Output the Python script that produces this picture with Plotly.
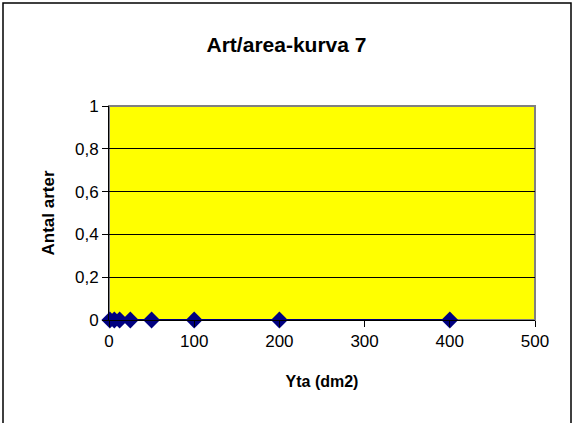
import plotly.graph_objects as go

area = [1, 6.25, 12.5, 25, 50, 100, 200, 400]
species = [0, 0, 0, 0, 0, 0, 0, 0]
x_ticks = [0, 100, 200, 300, 400, 500]
y_ticks = [0, 0.2, 0.4, 0.6, 0.8, 1]

W, H = 573, 423
L, R, T, B = 109, 38, 106, 103
pw, ph = W - L - R, H - T - B

def px(x):
    return (x - L) / pw

def py(y):
    return (H - B - y) / ph

font = "Liberation Sans, Arial, sans-serif"

fig = go.Figure()
fig.add_trace(go.Scatter(
    x=area, y=species, mode="lines+markers",
    line=dict(color="#000080", width=2),
    marker=dict(symbol="diamond", size=13, color="#000080"),
    cliponaxis=False, showlegend=False,
))

fig.update_layout(
    width=W, height=H,
    margin=dict(l=L, r=R, t=T, b=B, pad=0),
    paper_bgcolor="white",
    plot_bgcolor="#FFFF00",
    separators=", ",
    font=dict(family=font, color="black", size=17),
    title=dict(text="<b>Art/area-kurva 7</b>", x=0.5, xanchor="center",
               y=1 - 45 / H, yanchor="middle", font=dict(size=21)),
    xaxis=dict(range=[0, 500], tickvals=x_ticks, ticks="outside", ticklen=6,
               tickcolor="black", showgrid=False, zeroline=False,
               showline=True, linecolor="black", linewidth=1,
               title=dict(text="<b>Yta (dm2)</b>", font=dict(size=16), standoff=25),
               tickfont=dict(size=17)),
    yaxis=dict(range=[0, 1], tickvals=y_ticks, ticks="outside", ticklen=6,
               tickcolor="black", showgrid=True, gridcolor="black", gridwidth=1,
               zeroline=False, showline=True, linecolor="black", linewidth=1,
               title=dict(text="<b>Antal arter</b>", font=dict(size=17), standoff=16),
               tickfont=dict(size=17)),
    shapes=[
        dict(type="rect", xref="paper", yref="paper", x0=0, x1=1, y0=0, y1=1,
             line=dict(color="#808080", width=2), layer="below"),
        dict(type="rect", xref="paper", yref="paper",
             x0=px(3), x1=px(571), y0=py(440), y1=py(3),
             line=dict(color="black", width=1.5)),
    ],
)

fig.write_html("out.html", config={"displayModeBar": False},
               post_script="document.body.style.margin='0';document.body.style.overflow='hidden';")
